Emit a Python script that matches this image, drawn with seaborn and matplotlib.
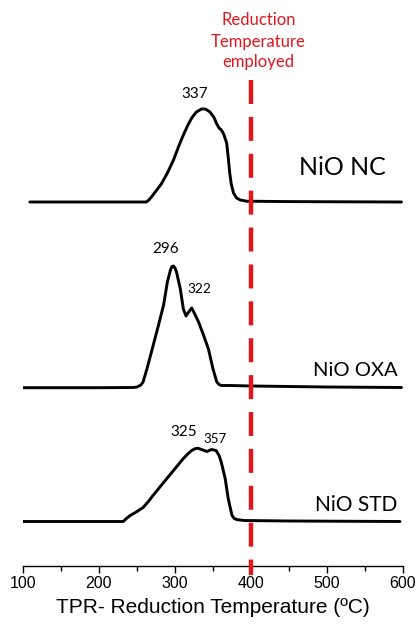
import numpy as np
import pandas as pd
import matplotlib
matplotlib.use("Agg")
import matplotlib.pyplot as plt
import seaborn as sns

# ---- data ----
nc_temp = [109, 200, 262, 265, 270, 276, 282, 290, 298, 305, 311, 317, 322, 328, 335, 340, 346, 351, 355, 358, 361, 364, 368, 370, 372, 374, 377, 381, 386, 394, 450, 520, 598]
nc_int = [0, 0, 0, 1.5, 6, 12, 18, 29, 42, 56, 67, 77, 84, 90, 93, 93, 90, 85, 78, 74, 72, 68, 59, 45, 29, 18, 9, 4, 2, 0.8, 0.4, 0.2, 0]

oxa_temp = [100, 200, 245, 250, 255, 258, 263, 269, 278, 285, 290, 294, 296, 298, 300, 302, 307, 311, 314.5, 318, 322, 326, 331, 337, 344, 350, 355, 358, 361, 372, 400, 500, 598]
oxa_int = [0.3, 0.3, 0.5, 1, 3, 6, 19, 36, 62, 83, 106, 118, 121.5, 122, 120, 116, 99, 79, 72, 76, 80, 74, 66, 54, 39, 19, 6, 3.5, 2.5, 2.5, 2, 1, 0.5]

std_temp = [100, 200, 232, 236, 241, 250, 258, 265, 271, 285, 298, 311, 318, 322, 326, 330, 335, 342, 348, 354, 358, 361, 366, 370, 375, 378, 381, 391, 450, 596]
std_int = [0, 0, 0, 3, 6, 10, 14, 20, 26, 39, 51, 63, 68.5, 71, 72.7, 73.3, 72, 70, 72, 71, 66, 59, 43, 23, 6, 3, 2, 1, 0.5, 0]

samples = ["NiO NC", "NiO OXA", "NiO STD"]
peak_labels = ["337", "296", "322", "325", "357"]
x_ticks = [100, 200, 300, 400, 500, 600]
reduction_temp = 400
reduction_text = ["Reduction", "Temperature", "employed"]
x_label = "TPR- Reduction Temperature (ºC)"

# ---- layout (vertical stacking offsets) ----
offsets = {"NiO NC": 364, "NiO OXA": 178, "NiO STD": 44.5}

frames = []
for name, t, v in [("NiO NC", nc_temp, nc_int), ("NiO OXA", oxa_temp, oxa_int), ("NiO STD", std_temp, std_int)]:
    frames.append(pd.DataFrame({"temp": t, "signal": np.array(v) + offsets[name], "sample": name}))
df = pd.concat(frames, ignore_index=True)

sns.set_theme(style="white")
plt.rcParams["font.family"] = ["Liberation Sans", "DejaVu Sans"]
plt.rcParams["text.color"] = "black"
plt.rcParams["axes.labelcolor"] = "black"
plt.rcParams["xtick.color"] = "black"

fig = plt.figure(figsize=(4.16, 6.32), dpi=100)
ax = fig.add_axes([23 / 416, 66 / 632, 380 / 416, 566 / 632])

sns.lineplot(data=df, x="temp", y="signal", hue="sample", units="sample", estimator=None,
             palette={s: "black" for s in samples}, linewidth=2.1, legend=False, sort=False, ax=ax)
for ln in ax.get_lines():
    ln.set_solid_joinstyle("round")
    ln.set_solid_capstyle("round")

red = "#E2161D"
ax.plot([reduction_temp, reduction_temp], [486, -9], color=red, linewidth=3.2,
        dashes=(5.4, 2.9), dash_capstyle="butt", clip_on=False, zorder=5)

ax.set_xlim(100, 600)
ax.set_ylim(0, 566)

calib = ["Lato", "DejaVu Sans"]

# red annotation
for txt, y in zip(reduction_text, [546, 524.5, 504.5]):
    ax.text(409.6, y, txt, color=red, fontsize=12, ha="center", va="center", family=calib)

# peak labels
ax.text(326, 472, peak_labels[0], fontsize=11, ha="center", va="center", family=calib)
ax.text(288, 316.7, peak_labels[1], fontsize=11, ha="center", va="center", family=calib)
ax.text(331.6, 276.7, peak_labels[2], fontsize=9.8, ha="center", va="center", family=calib)
ax.text(311, 133.7, peak_labels[3], fontsize=11, ha="center", va="center", family=calib)
ax.text(352.6, 127, peak_labels[4], fontsize=9.6, ha="center", va="center", family=calib)

# sample labels
ax.text(520, 398.3, samples[0], fontsize=18, ha="center", va="center", family=calib)
ax.text(537.4, 196, samples[1], fontsize=14.5, ha="center", va="center", family=calib)
ax.text(538, 60.7, samples[2], fontsize=15, ha="center", va="center", family=calib)

# axes styling
for s in ["left", "right", "top"]:
    ax.spines[s].set_visible(False)
ax.spines["bottom"].set_color("black")
ax.spines["bottom"].set_linewidth(1.0)
ax.set_yticks([])
ax.set_xticks(x_ticks)
ax.set_xticks([150, 250, 350, 450, 550], minor=True)
ax.tick_params(axis="x", which="major", direction="out", length=5, width=1, color="black",
               labelcolor="black", labelsize=11.5, pad=2.5, bottom=True)
ax.tick_params(axis="x", which="minor", direction="out", length=3.5, width=1, color="black", bottom=True)
ax.set_xlabel(x_label, fontsize=15, labelpad=5, color="black")
ax.set_ylabel("")

fig.savefig("out.png", dpi=100)
